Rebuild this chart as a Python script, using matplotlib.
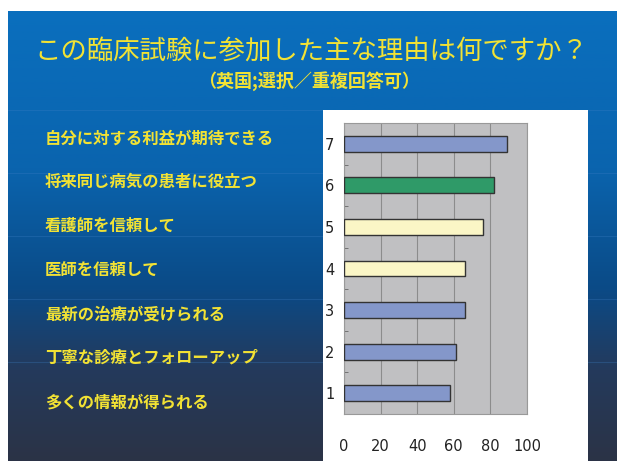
import numpy as np
import matplotlib.pyplot as plt
from matplotlib.colors import LinearSegmentedColormap
from matplotlib.patches import Rectangle
from matplotlib import font_manager

plt.rcParams['font.family'] = ['Noto Sans CJK JP', 'DejaVu Sans']

# data
bar_labels = ['1', '2', '3', '4', '5', '6', '7']
values = [58, 61, 66, 66, 76, 82, 89]
bar_colors = ['#8497CA', '#8497CA', '#8497CA', '#FBF6C6', '#FBF6C6', '#2F9A68', '#8497CA']
reasons = ['多くの情報が得られる', '丁寧な診療とフォローアップ', '最新の治療が受けられる',
           '医師を信頼して', '看護師を信頼して', '将来同じ病気の患者に役立つ',
           '自分に対する利益が期待できる']
x_ticks = [0, 20, 40, 60, 80, 100]

title = 'この臨床試験に参加した主な理由は何ですか？'
subtitle = '（英国;選択／重複回答可）'

# narrow font for the numbers, if one is around
names = {f.name for f in font_manager.fontManager.ttflist}
num_family = [n for n in ['Liberation Sans Narrow', 'DejaVu Sans Condensed'] if n in names] + ['DejaVu Sans']

W, H = 617, 461
fig = plt.figure(figsize=(W / 100, H / 100), dpi=100)
fig.patch.set_facecolor('white')

# slide background gradient
bg = fig.add_axes([8 / W, 0, 1 - 8 / W, 1 - 11 / H])
cmap = LinearSegmentedColormap.from_list(
    'slide', [(0, '#0A6FBE'), (0.35, '#0A64AE'), (0.62, '#0B4A86'), (0.8, '#243A5C'), (1, '#2B3346')])
grad = np.linspace(0, 1, 256).reshape(-1, 1)
bg.imshow(grad, aspect='auto', cmap=cmap, extent=[0, 1, 0, 1], origin='upper')
for yy in [0.22, 0.36, 0.50, 0.64, 0.78]:
    bg.axhline(yy, color='#3C7FC4', lw=0.8, alpha=0.3)
bg.set_xlim(0, 1)
bg.set_ylim(0, 1)
bg.axis('off')

# titles
fig.text(0.505, 1 - 52 / H, title, color='#F2E234', fontsize=19, ha='center', va='center')
fig.text(0.5, 1 - 81 / H, subtitle, color='#F2E234', fontsize=13, ha='center', va='center',
         fontweight='bold')

# left-hand reasons, top to bottom
label_y = [402, 357, 314, 270, 226, 182, 139]
for txt, yy in zip(reasons, label_y):
    fig.text(45 / W, 1 - yy / H, txt, color='#F2E234', fontsize=11.8, fontweight='bold',
             ha='left', va='center')

# white chart panel
fig.patches.append(Rectangle((323 / W, 0), 265 / W, (H - 110) / H, transform=fig.transFigure,
                             facecolor='white', edgecolor='none', zorder=1))

ax = fig.add_axes([344 / W, (H - 414) / H, 183 / W, 291 / H], zorder=2)
ax.set_facecolor('#C0C0C2')
pos = np.arange(len(bar_labels))
ax.barh(pos, values, height=0.38, color=bar_colors, edgecolor='#333333', linewidth=1.0, zorder=3)
ax.set_xlim(0, 100)
ax.set_ylim(-0.5, len(bar_labels) - 0.5)
ax.set_xticks(x_ticks)
ax.xaxis.grid(True, color='#8C8C8C', lw=0.8, zorder=0)
ax.set_axisbelow(True)
ax.set_yticks(pos)
ax.set_yticklabels(bar_labels)
ax.set_yticks(pos[:-1] + 0.5, minor=True)
ax.tick_params(axis='y', which='major', length=0, pad=7, labelsize=10.5)
ax.tick_params(axis='y', which='minor', length=3, direction='in', color='#666666')
ax.tick_params(axis='x', length=0, pad=18, labelsize=10.5)
for lab in ax.get_xticklabels() + ax.get_yticklabels():
    lab.set_family(num_family)
    lab.set_color('#222222')
for side in ['top', 'right', 'bottom', 'left']:
    ax.spines[side].set_color('#999999')
    ax.spines[side].set_linewidth(0.8)

fig.savefig('out.png', dpi=100)
